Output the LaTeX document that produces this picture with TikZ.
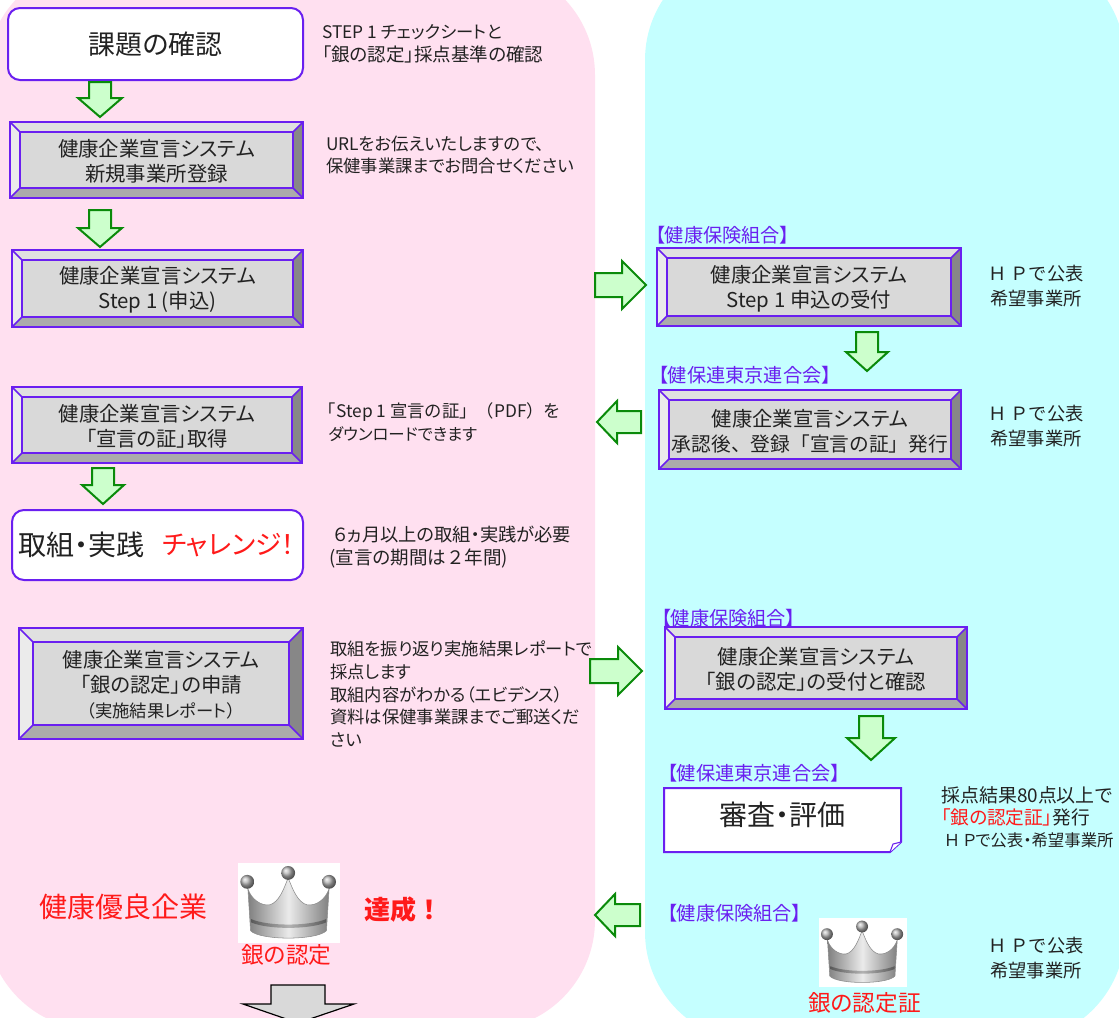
\documentclass[tikz,border=0pt]{standalone}
\usepackage{fontspec}
\setmainfont[RawFeature=+palt]{Noto Sans CJK JP}
\newfontfamily\fw{Noto Sans CJK JP}
\definecolor{pinkbg}{HTML}{FFE0F0}
\definecolor{bluebg}{HTML}{C5FFFF}
\definecolor{pur}{HTML}{6A1FF0}
\definecolor{grn}{HTML}{0A8A0A}
\definecolor{grnf}{HTML}{CCFFCC}
\definecolor{txc}{HTML}{222222}
\definecolor{redt}{HTML}{FF1A1A}
\newcommand{\fs}[2]{\fontsize{#1}{#2}\selectfont}
\tikzset{
  x=0.75pt,y=-0.75pt,
  blockarrow/.style={draw=grn,fill=grnf,line width=1.5pt,line join=miter},
  whitebox/.style={draw=pur,fill=white,line width=1.5pt},
  facelabel/.style={inner sep=0pt,align=center,text=txc,font=\fs{15.3}{18.6}},
  hplabel/.style={inner sep=0pt,align=center,text=txc,font=\fw\fs{13.7}{18.4}},
  notetext/.style={inner sep=0pt,anchor=west,align=left,text=txc,font=\fs{13}{16.8}},
  purlabel/.style={inner sep=0pt,anchor=west,text=pur,font=\fs{14.4}{16}},
}
% name,x1,y1,x2,y2,bevel,text
\newcommand{\bevbox}[7]{%
  \pgfmathsetmacro{\ax}{#2+#6}\pgfmathsetmacro{\ay}{#3+#6}%
  \pgfmathsetmacro{\bx}{#4-#6}\pgfmathsetmacro{\by}{#5-#6}%
  \pgfmathsetmacro{\cx}{(#2+#4)/2}\pgfmathsetmacro{\cy}{(#3+#5)/2+1.5}%
  \fill[black!12] (#2,#3) -- (#4,#3) -- (\bx,\ay) -- (\ax,\ay) -- cycle;
  \fill[black!8] (#2,#3) -- (#2,#5) -- (\ax,\by) -- (\ax,\ay) -- cycle;
  \fill[black!47] (#4,#3) -- (#4,#5) -- (\bx,\by) -- (\bx,\ay) -- cycle;
  \fill[black!33] (#2,#5) -- (#4,#5) -- (\bx,\by) -- (\ax,\by) -- cycle;
  \draw[pur,line width=1.1pt] (#2,#3) -- (\ax,\ay) (#4,#3) -- (\bx,\ay) (#2,#5) -- (\ax,\by) (#4,#5) -- (\bx,\by);
  \draw[pur,line width=1.5pt,fill=black!15] (\ax,\ay) rectangle (\bx,\by);
  \draw[pur,line width=1.7pt] (#2,#3) rectangle (#4,#5);
  \node[facelabel] (#1) at (\cx,\cy) {#7};
}
% cx, ytop, yshoulder, ytip, halfshaft, halfhead
\newcommand{\arrdown}[6]{%
  \draw[blockarrow] ({#1-#5},#2) -- ({#1+#5},#2) -- ({#1+#5},#3) -- ({#1+#6},#3) -- (#1,#4) -- ({#1-#6},#3) -- ({#1-#5},#3) -- cycle;
}
% cy, xtail, xshoulder, xtip, halfshaft, halfhead
\newcommand{\arrside}[6]{%
  \draw[blockarrow] (#2,{#1-#5}) -- (#3,{#1-#5}) -- (#3,{#1-#6}) -- (#4,#1) -- (#3,{#1+#6}) -- (#3,{#1+#5}) -- (#2,{#1+#5}) -- cycle;
}
% x,y top-left of picture, scale relative to the reference size
\newcommand{\crown}[3]{%
 \begin{scope}[shift={(#1,#2)},x=#3*0.25pt,y=-#3*0.25pt]
  \fill[white] (0,0) rectangle (309,242);
  \shade[left color=black!50,right color=black!50,middle color=black!8,draw=black!45,line width=0.4pt]
    (30,78) .. controls (40,110) and (70,130) .. (95,127) .. controls (125,120) and (140,75) .. (152,45)
    .. controls (164,75) and (180,120) .. (210,127) .. controls (238,130) and (265,110) .. (276,78)
    -- (268,205) .. controls (240,235) and (65,235) .. (38,205) -- cycle;
  \shade[left color=black!65,right color=black!65,middle color=black!30]
    (40,170) .. controls (90,192) and (215,192) .. (267,170) -- (267,180) .. controls (215,202) and (90,202) .. (40,180) -- cycle;
  \foreach \px/\py in {28/57,152/30,276/57}
    \shade[ball color=black!30] (\px,\py) circle (21);
 \end{scope}
}
\begin{document}
\begin{tikzpicture}
\useasboundingbox (0,0) rectangle (1119,1017);
\clip (0,0) rectangle (1119,1017);
\fill[white] (0,0) rectangle (1119,1017);
\fill[pinkbg,rounded corners=82.5pt] (-14,-35) rectangle (595,1030);
\fill[bluebg,rounded corners=82.5pt] (645,-50) rectangle (1125,1042);

% left column
\node[whitebox,draw,rounded corners=9pt,minimum width=295*0.75pt,minimum height=72*0.75pt,inner sep=0pt,font=\fs{20.2}{24},text=txc] (kadai) at (155.5,44) {課題の確認};
\arrdown{100}{82}{98}{117}{11}{22}
\node[notetext] (n1) at (322,44) {STEP 1 チェックシートと\\\fs{13.9}{16.8}「銀の認定」採点基準の確認};

\bevbox{b1}{10}{122}{303}{198}{10}{健康企業宣言システム\\新規事業所登録}
\node[notetext] (n2) at (326,155) {URLをお伝えいたしますので、\\保健事業課までお問合せください};
\arrdown{100}{210}{228}{247}{11}{22}

\bevbox{b2}{12}{250}{303}{327}{10}{健康企業宣言システム\\Step 1 (申込)}

\bevbox{b3}{12}{387}{302}{463}{10}{健康企業宣言システム\\「宣言の証」取得}
\node[notetext] (n3) at (328,422) {\hspace{-7pt}\fw\fs{13}{16.8}「Step 1 宣言の証」（PDF）を\\\fs{12.3}{16.8}ダウンロードできます};
\arrdown{103}{468}{485}{504}{11}{21}

\node[whitebox,draw,rounded corners=9pt,minimum width=291*0.75pt,minimum height=70*0.75pt,inner sep=0pt] (tori) at (157.5,545) {};
\node[inner sep=0pt,anchor=west,font=\fs{21}{24},text=txc] (tori1) at (18,545) {取組・実践};
\node[inner sep=0pt,anchor=west,font=\fs{20}{24},text=redt] (tori2) at (162,545) {チャレンジ！};
\node[notetext] (n4) at (329,547) {\fs{13.7}{16.8}\ ６ヵ月以上の取組・実践が必要\\\fs{13.9}{16.8}(宣言の期間は\fw{２}年間)};

\bevbox{b4}{19}{628}{303}{739}{14}{健康企業宣言システム\\「銀の認定」の申請\\\fs{13}{18.6}（実施結果レポート）}
\node[notetext,font=\fs{13}{17.2}] (n5) at (330,694) {取組を振り返り実施結果レポートで\\採点します\\取組内容がわかる（エビデンス）\\資料は保健事業課までご郵送くだ\\さい};

\node[inner sep=0pt,font=\fs{21}{24},text=redt] (yuryo) at (123.5,907) {健康優良企業};
\crown{238}{863}{0.99}
\node[inner sep=0pt,font=\fw\bfseries\fs{19.5}{24},text=redt] (tassei) at (403,910) {達成！};
\node[inner sep=0pt,font=\fs{17}{20},text=redt] (gin) at (286.5,955) {銀の認定};
\draw[black,fill=black!15,line width=0.9pt] (271,985) -- (325,985) -- (325,1004) -- (354,1004) -- (298,1023) -- (243,1004) -- (271,1004) -- cycle;

% block arrows between columns
\arrside{285}{595}{622}{646}{12}{24}
\arrside{422}{641}{617}{597}{11}{21}
\arrside{671}{590}{618}{642}{12}{24}
\arrside{915}{640}{615}{595}{11}{21}

% right column
\node[purlabel] (l1) at (655,235) {【健康保険組合】};
\bevbox{r1}{657}{248}{961}{326}{10}{健康企業宣言システム\\Step 1 申込の受付}
\node[hplabel] (h1) at (1036,286) {Ｈ Ｐで公表\\希望事業所};
\arrdown{867}{332}{352}{371}{11}{21}

\node[purlabel] (l2) at (658,375) {【健保連東京連合会】};
\bevbox{r2}{659}{390}{961}{469}{10}{健康企業宣言システム\\\fw\fs{14.8}{18.6}承認後、登録「宣言の証」発行}
\node[hplabel] (h2) at (1036,426) {Ｈ Ｐで公表\\希望事業所};

\node[purlabel] (l3) at (661,618) {【健康保険組合】};
\bevbox{r3}{665}{627}{967}{709}{10}{健康企業宣言システム\\「銀の認定」の受付と確認}
\arrdown{871}{716}{738}{760}{12}{24}

\node[purlabel] (l4) at (667,773) {【健保連東京連合会】};
\draw[whitebox] (664,788) -- (901,788) -- (901,842) -- (890,852) -- (664,852) -- cycle;
\draw[draw=pur,fill=white,line width=0.8pt] (890,852) -- (893,844) -- (901,842);
\node[inner sep=0pt,font=\fs{21}{24},text=txc] (shinsa) at (782.5,815) {審査・評価};
\node[notetext,font=\fs{14.2}{16.6}] (n6) at (941,817) {採点結果80点以上で\\\fs{14}{16.6}\textcolor{redt}{「銀の認定証」}発行\\\fs{12.3}{16.6}\ Ｈ Ｐで公表・希望事業所};

\node[purlabel] (l5) at (667,913) {【健康保険組合】};
\crown{819}{918}{0.85}
\node[inner sep=0pt,font=\fs{17}{20},text=redt] (ginsho) at (864.5,1003) {銀の認定証};
\node[hplabel] (h3) at (1036,958) {Ｈ Ｐで公表\\希望事業所};
\end{tikzpicture}
\end{document}
